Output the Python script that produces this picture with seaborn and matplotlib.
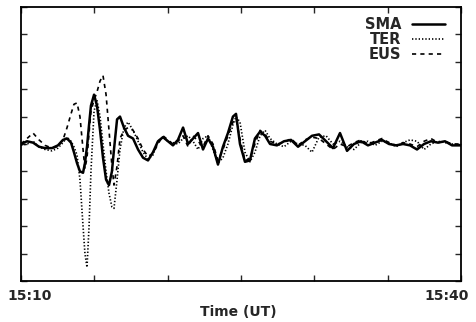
import numpy as np
import pandas as pd
import matplotlib
matplotlib.use("Agg")
import matplotlib.pyplot as plt
import seaborn as sns

# time in minutes after 15:10 UT
minutes = [0.0, 0.41, 0.82, 1.23, 1.64, 2.11, 2.52, 2.86, 3.14, 3.41, 3.61, 3.82, 4.02, 4.23,
           4.36, 4.5, 4.64, 4.77, 4.98, 5.18, 5.39, 5.59, 5.8, 6.0, 6.2, 6.34, 6.55, 6.75,
           7.02, 7.3, 7.64, 7.98, 8.32, 8.66, 9.0, 9.34, 9.68, 10.02, 10.36, 10.7, 11.05,
           11.39, 11.73, 12.07, 12.41, 12.75, 13.09, 13.43, 13.77, 14.11, 14.45, 14.66, 14.93,
           15.27, 15.61, 15.95, 16.3, 16.64, 16.98, 17.45, 17.93, 18.41, 18.89, 19.36, 19.84,
           20.32, 20.8, 21.27, 21.75, 22.23, 22.7, 23.18, 23.66, 24.14, 24.61, 25.09, 25.57,
           26.05, 26.52, 27.0, 27.48, 27.95, 28.43, 28.91, 29.39, 30.0]

sma = [0.0, 0.1, 0.05, -0.1, -0.15, -0.15, -0.05, 0.15, 0.2, 0.05, -0.3, -0.7, -1.0, -1.05,
       -0.7, -0.1, 0.7, 1.4, 1.8, 1.4, 0.5, -0.5, -1.3, -1.5, -1.0, -0.2, 0.9, 1.0,
       0.6, 0.3, 0.2, -0.2, -0.5, -0.6, -0.3, 0.1, 0.25, 0.1, -0.05, 0.15, 0.6,
       0.0, 0.2, 0.4, -0.2, 0.2, -0.1, -0.75, -0.1, 0.4, 1.0, 1.1, 0.0,
       -0.65, -0.6, 0.2, 0.45, 0.3, 0.0, -0.05, 0.1, 0.15, -0.1, 0.1, 0.3,
       0.35, 0.1, -0.15, 0.4, -0.25, 0.0, 0.1, -0.05, 0.05, 0.15, 0.0, -0.05,
       0.0, -0.05, -0.2, 0.0, 0.1, 0.05, 0.1, -0.05, -0.05]

ter = [-0.05, 0.0, 0.1, -0.1, -0.2, -0.25, -0.15, 0.05, 0.25, 0.1, -0.1, -0.4, -1.3, -3.0,
       -4.0, -4.5, -3.0, -1.0, 1.2, 1.6, 1.0, 0.0, -1.0, -1.8, -2.3, -2.35, -1.3, -0.2,
       0.6, 0.8, 0.5, 0.1, -0.3, -0.55, -0.4, 0.1, 0.25, 0.1, 0.05, 0.0, 0.2,
       0.3, 0.1, -0.2, 0.2, 0.3, -0.2, -0.7, -0.5, 0.0, 0.7, 1.0, 0.8,
       -0.3, -0.65, -0.3, 0.3, 0.5, 0.2, 0.0, -0.1, 0.1, 0.0, -0.05, -0.3,
       0.25, 0.3, 0.0, 0.1, -0.1, -0.2, 0.05, 0.1, -0.05, 0.1, 0.05, -0.1,
       0.05, 0.15, 0.1, -0.2, 0.0, 0.1, 0.05, 0.0, -0.05]

eus = [0.0, 0.2, 0.4, 0.15, -0.05, -0.15, -0.1, 0.15, 0.6, 1.1, 1.45, 1.5, 1.0, -0.2,
       -0.9, -0.5, 0.4, 1.2, 1.6, 1.9, 2.3, 2.5, 1.8, 0.5, -0.8, -1.5, -0.8, 0.2,
       0.5, 0.6, 0.5, 0.2, -0.2, -0.45, -0.35, 0.0, 0.3, 0.15, 0.0, 0.1, 0.3,
       -0.1, 0.3, 0.1, -0.1, 0.3, 0.0, -0.6, -0.2, 0.3, 0.8, 0.9, 0.2,
       -0.6, -0.55, 0.0, 0.5, 0.35, 0.1, 0.0, 0.05, 0.2, -0.05, 0.15, 0.25,
       0.2, 0.0, -0.2, 0.0, -0.1, 0.05, 0.15, 0.0, 0.1, 0.2, 0.05, -0.05,
       0.05, 0.0, -0.1, 0.1, 0.2, 0.05, 0.1, 0.0, 0.0]

stations = ["SMA", "TER", "EUS"]
series = {"SMA": sma, "TER": ter, "EUS": eus}
x_tick_labels = ["15:10", "15:40"]

df = pd.concat([pd.DataFrame({"minute": minutes, "value": v, "station": s})
                for s, v in series.items()], ignore_index=True)

sns.set_style("ticks")
plt.rcParams["font.family"] = ["DejaVu Sans"]

fig = plt.figure(figsize=(4.77, 3.22), dpi=100)
ax = fig.add_axes([21/477, 1 - 281/322, 440/477, 274/322])

styles = {"SMA": dict(linestyle="-", linewidth=1.8),
          "TER": dict(linestyle=(0, (0.8, 1.2)), linewidth=1.2),
          "EUS": dict(linestyle=(0, (2.5, 2.5)), linewidth=1.2)}

for s in stations:
    sub = df[df["station"] == s]
    sns.lineplot(data=sub, x="minute", y="value", ax=ax, color="black",
                 label=s, estimator=None, sort=False, **styles[s])

ax.set_xlim(0, 30)
ax.set_ylim(-5, 5)
ax.set_xticks(np.arange(0, 31, 5))
ax.set_yticks(np.arange(-5, 6, 1))
ax.set_xticklabels([])
ax.set_yticklabels([])
ax.tick_params(direction="in", length=4, width=1, top=True, right=True,
               bottom=True, left=True)
for sp in ax.spines.values():
    sp.set_linewidth(1.3)
    sp.set_color("black")
ax.set_xlabel("")
ax.set_ylabel("")

ax.text(0.02, -0.055, x_tick_labels[0], transform=ax.transAxes, ha="center",
        va="center", fontsize=10, fontweight="bold")
ax.text(0.968, -0.055, x_tick_labels[1], transform=ax.transAxes, ha="center",
        va="center", fontsize=10, fontweight="bold")
ax.text(0.495, -0.113, "Time (UT)", transform=ax.transAxes, ha="center",
        va="center", fontsize=10, fontweight="bold")

leg = ax.legend(loc="upper right", bbox_to_anchor=(0.977, 0.985), frameon=False,
                markerfirst=False, handlelength=2.3, handletextpad=0.7,
                labelspacing=0.0, borderaxespad=0.0,
                prop={"weight": "bold", "size": 10.5})

fig.savefig("out.png", dpi=100)
